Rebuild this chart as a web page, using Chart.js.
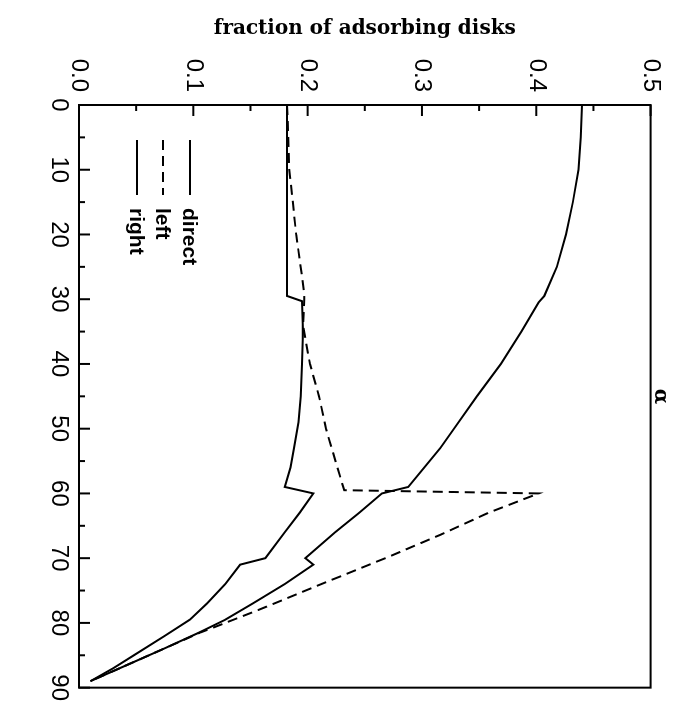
<!DOCTYPE html>
<html>
<head>
<meta charset="utf-8">
<script src="https://cdn.jsdelivr.net/npm/chart.js@4.4.1/dist/chart.umd.min.js"></script>
<style>
  html, body { margin: 0; padding: 0; background: #fff; overflow: hidden; }
  #page { position: relative; width: 678px; height: 707px; }
  /* the plot is drawn upright and then turned a quarter turn clockwise */
  #turn { position: absolute; left: 0; top: 0; width: 707px; height: 678px;
          transform-origin: 0 0; transform: translate(678px, 0) rotate(90deg); }
</style>
</head>
<body>
<div id="page"><div id="turn"><canvas id="c" width="707" height="678"></canvas></div></div>
<script>
// incidence angle alpha (degrees) and fraction of adsorbing disks
const alphaDirect = [0, 5, 10, 15, 20, 25, 29.5, 30.5, 35, 40, 45, 50, 53, 56, 59, 60, 63, 66, 70, 71, 74, 77, 79.5, 81.5, 84, 86.5, 89];
const fracDirect  = [0.440, 0.439, 0.437, 0.432, 0.426, 0.418, 0.407, 0.402, 0.387, 0.369, 0.348, 0.328, 0.316, 0.302, 0.288, 0.265, 0.245, 0.224, 0.198, 0.205, 0.180, 0.152, 0.128, 0.105, 0.074, 0.042, 0.010];

const alphaLeft = [0, 10, 20, 29, 30, 34, 40, 45, 50, 53, 56, 59.5, 60, 63, 66.4, 70, 74, 78, 80, 81.5, 84, 86.5, 89];
const fracLeft  = [0.182, 0.184, 0.190, 0.197, 0.197, 0.196, 0.202, 0.210, 0.216, 0.221, 0.226, 0.232, 0.402, 0.358, 0.316, 0.268, 0.212, 0.157, 0.128, 0.106, 0.074, 0.042, 0.010];

const alphaRight = [0, 10, 20, 29.5, 30.3, 35, 40, 45, 49, 53, 56, 59, 60, 63, 66, 70, 71, 74, 77, 79.5, 82, 85, 87, 89];
const fracRight  = [0.182, 0.182, 0.182, 0.182, 0.195, 0.196, 0.195, 0.194, 0.192, 0.188, 0.185, 0.180, 0.205, 0.193, 0.180, 0.163, 0.141, 0.128, 0.112, 0.097, 0.075, 0.048, 0.030, 0.010];

const seriesNames = ['direct', 'left', 'right'];

const alphaTicks = [0, 10, 20, 30, 40, 50, 60, 70, 80, 90];
const alphaMinorTicks = [5, 15, 25, 35, 45, 55, 65, 75, 85];
const fracTicks = [0.0, 0.1, 0.2, 0.3, 0.4, 0.5];
const fracMinorTicks = [0.05, 0.15, 0.25, 0.35, 0.45];

const pts = (xs, ys) => xs.map((a, i) => ({ x: a, y: ys[i] }));

// closed frame with inward tick marks on the fraction and alpha axes
const frameTicks = {
  id: 'frameTicks',
  afterDatasetsDraw(chart) {
    const { ctx, chartArea: { left, right, top, bottom }, scales: { x, y } } = chart;
    ctx.save();
    ctx.strokeStyle = '#000';
    ctx.lineWidth = 2;
    ctx.strokeRect(left, top, right - left, bottom - top);
    const mark = (x1, y1, x2, y2) => { ctx.beginPath(); ctx.moveTo(x1, y1); ctx.lineTo(x2, y2); ctx.stroke(); };
    fracTicks.forEach(v => { const p = y.getPixelForValue(v); mark(left, p, left + 11, p); });
    fracMinorTicks.forEach(v => { const p = y.getPixelForValue(v); mark(left, p, left + 6, p); });
    alphaTicks.forEach(v => { const p = x.getPixelForValue(v); mark(p, bottom, p, bottom - 11); });
    alphaMinorTicks.forEach(v => { const p = x.getPixelForValue(v); mark(p, bottom, p, bottom - 6); });
    // alpha axis name
    ctx.fillStyle = '#000';
    ctx.font = 'bold 20px "DejaVu Serif"';
    ctx.textAlign = 'center';
    ctx.textBaseline = 'middle';
    ctx.fillText('\u03b1', (left + right) / 2, top - 10);
    ctx.restore();
  }
};

// key drawn inside the frame, one row per series
const keyBox = {
  id: 'keyBox',
  afterDatasetsDraw(chart) {
    const { ctx } = chart;
    const rows = [488, 515, 541];
    ctx.save();
    chart.data.datasets.forEach((ds, i) => {
      const yy = rows[i];
      ctx.strokeStyle = '#000';
      ctx.lineWidth = 2;
      ctx.setLineDash(ds.borderDash || []);
      ctx.beginPath(); ctx.moveTo(140, yy); ctx.lineTo(195, yy); ctx.stroke();
      ctx.setLineDash([]);
      ctx.fillStyle = '#000';
      ctx.font = 'bold 21px "Liberation Sans"';
      ctx.textAlign = 'left';
      ctx.textBaseline = 'middle';
      ctx.fillText(ds.label, 208, yy + 1);
    });
    ctx.restore();
  }
};

new Chart(document.getElementById('c'), {
  type: 'scatter',
  data: {
    datasets: [
      { label: seriesNames[0], data: pts(alphaDirect, fracDirect), showLine: true, borderColor: '#000', borderWidth: 2, pointRadius: 0, tension: 0 },
      { label: seriesNames[1], data: pts(alphaLeft, fracLeft), showLine: true, borderColor: '#000', borderWidth: 2, borderDash: [10, 6], pointRadius: 0, tension: 0 },
      { label: seriesNames[2], data: pts(alphaRight, fracRight), showLine: true, borderColor: '#000', borderWidth: 2, pointRadius: 0, tension: 0 }
    ]
  },
  options: {
    responsive: false,
    animation: false,
    layout: { padding: { left: 0, top: 20, right: 19, bottom: 0 } },
    plugins: { legend: { display: false }, tooltip: { enabled: false } },
    scales: {
      x: {
        type: 'linear', min: 0, max: 90,
        afterBuildTicks: s => { s.ticks = alphaTicks.map(v => ({ value: v })); },
        afterFit: s => { s.height = 79; },
        grid: { display: false, drawTicks: false },
        border: { display: false },
        ticks: { color: '#000', padding: 6, font: { family: '"Liberation Sans"', size: 24 }, maxRotation: 0 }
      },
      y: {
        type: 'linear', min: 0, max: 0.5,
        afterBuildTicks: s => { s.ticks = fracTicks.map(v => ({ value: v })); },
        afterFit: s => { s.width = 105; },
        grid: { display: false, drawTicks: false },
        border: { display: false },
        ticks: { color: '#000', padding: 13, font: { family: '"Liberation Sans"', size: 24 }, callback: v => Number(v).toFixed(1) },
        title: { display: true, text: 'fraction of adsorbing disks', color: '#000', padding: { top: 17, bottom: 0 },
                 font: { family: '"DejaVu Serif"', size: 20, weight: 'bold' } }
      }
    }
  },
  plugins: [frameTicks, keyBox]
});
</script>
</body>
</html>
